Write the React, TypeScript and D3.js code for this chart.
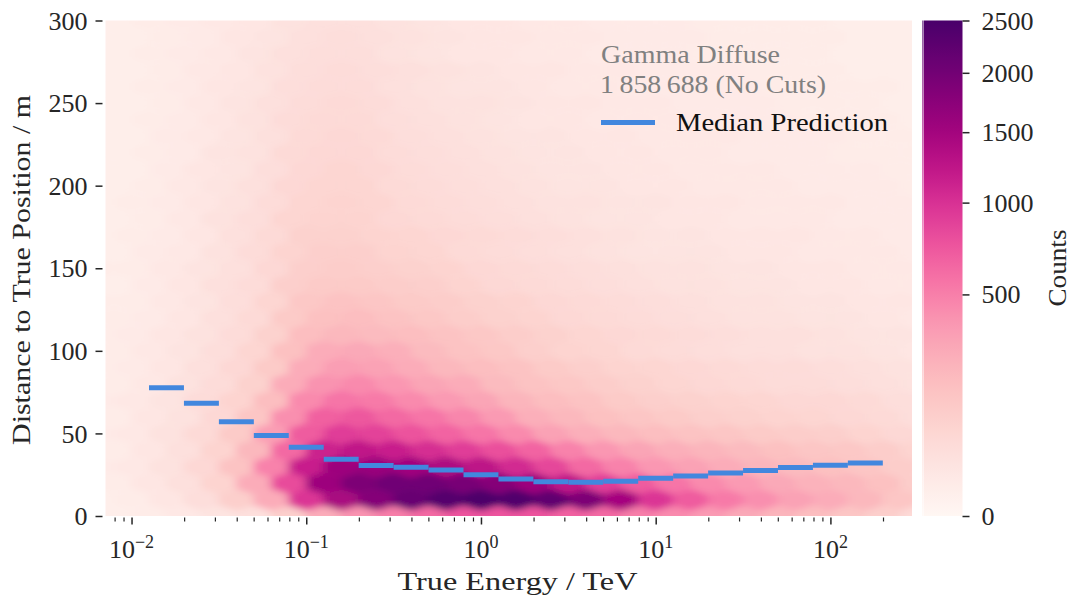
import React, { useEffect, useRef } from 'react';
import * as d3 from 'd3';

// hexbin rows, one per distance (m); even rows use logEnergyEven, odd rows logEnergyOdd
const distanceRows = [0, 10, 20, 30, 40, 50, 60, 70, 80, 90, 100, 110, 120, 130, 140, 150, 160, 170, 180, 190, 200, 210, 220, 230, 240, 250, 260, 270, 280, 290, 300];
const logEnergyEven = [-2.3, -2.1, -1.9, -1.7, -1.5, -1.3, -1.1, -0.9, -0.7, -0.5, -0.3, -0.1, 0.1, 0.3, 0.5, 0.7, 0.9, 1.1, 1.3, 1.5, 1.7, 1.9, 2.1, 2.3, 2.5, 2.7];
const logEnergyOdd = [-2.2, -2.0, -1.8, -1.6, -1.4, -1.2, -1.0, -0.8, -0.6, -0.4, -0.2, 0.0, 0.2, 0.4, 0.6, 0.8, 1.0, 1.2, 1.4, 1.6, 1.8, 2.0, 2.2, 2.4, 2.6];

const hexCounts = [
  [6, 6, 9, 16, 25, 36, 100, 272, 400, 506, 625, 756, 756, 756, 676, 625, 506, 441, 361, 289, 225, 182, 144, 100, 56, 36],
  [6, 9, 20, 42, 100, 272, 961, 1444, 1806, 2116, 2352, 2450, 2401, 2209, 1892, 1482, 961, 702, 529, 420, 324, 272, 210, 144, 100],
  [9, 9, 20, 36, 81, 272, 812, 1560, 1892, 2025, 2025, 1936, 1806, 1560, 1225, 900, 702, 552, 441, 361, 289, 240, 210, 169, 110, 81],
  [12, 16, 30, 64, 156, 484, 1156, 1560, 1600, 1521, 1406, 1260, 1056, 841, 625, 484, 380, 324, 272, 225, 196, 169, 144, 110, 81],
  [9, 9, 20, 36, 81, 210, 625, 1122, 1225, 1156, 1024, 900, 784, 650, 484, 380, 306, 256, 225, 196, 169, 144, 132, 110, 81, 64],
  [12, 16, 30, 56, 121, 342, 702, 900, 870, 756, 650, 552, 441, 324, 256, 210, 182, 156, 144, 121, 110, 100, 81, 64, 49],
  [9, 9, 20, 30, 64, 144, 420, 676, 729, 625, 552, 462, 361, 256, 210, 169, 144, 121, 100, 90, 81, 72, 64, 56, 42, 36],
  [12, 16, 25, 49, 81, 182, 441, 552, 529, 441, 361, 306, 225, 182, 156, 121, 100, 90, 81, 72, 64, 64, 56, 42, 36],
  [9, 9, 16, 30, 49, 90, 272, 400, 441, 380, 306, 272, 196, 156, 132, 110, 90, 72, 64, 56, 49, 49, 42, 36, 30, 25],
  [9, 12, 20, 36, 64, 121, 272, 342, 324, 272, 210, 182, 156, 121, 100, 81, 72, 64, 56, 49, 49, 42, 36, 30, 25],
  [9, 9, 16, 25, 42, 72, 169, 272, 289, 256, 196, 156, 132, 100, 81, 72, 56, 49, 42, 36, 36, 30, 30, 25, 20, 16],
  [9, 12, 20, 30, 49, 90, 182, 210, 196, 182, 156, 132, 110, 90, 72, 64, 56, 49, 42, 36, 36, 30, 25, 25, 20],
  [9, 9, 12, 20, 36, 56, 121, 169, 182, 156, 132, 110, 90, 81, 64, 56, 49, 42, 36, 30, 30, 25, 25, 20, 16, 12],
  [9, 9, 16, 25, 42, 72, 132, 156, 144, 121, 110, 90, 81, 64, 56, 49, 42, 36, 30, 30, 25, 25, 20, 20, 16],
  [6, 6, 12, 20, 36, 49, 100, 121, 121, 110, 100, 81, 64, 56, 49, 42, 36, 30, 30, 25, 25, 20, 20, 16, 16, 12],
  [9, 9, 16, 25, 36, 64, 100, 110, 100, 90, 81, 64, 56, 49, 42, 36, 30, 30, 25, 25, 20, 20, 16, 16, 12],
  [6, 6, 12, 16, 30, 49, 81, 100, 100, 81, 72, 56, 49, 42, 36, 30, 25, 25, 25, 20, 20, 16, 16, 16, 12, 12],
  [6, 9, 12, 20, 36, 56, 90, 90, 81, 72, 64, 56, 49, 42, 36, 30, 25, 25, 20, 20, 20, 16, 16, 12, 12],
  [6, 6, 9, 16, 30, 42, 72, 81, 81, 64, 56, 49, 42, 36, 30, 25, 25, 20, 20, 16, 16, 16, 12, 12, 12, 9],
  [6, 9, 12, 20, 30, 49, 72, 81, 72, 56, 49, 42, 36, 30, 30, 25, 25, 20, 20, 16, 16, 16, 12, 12, 9],
  [6, 6, 9, 16, 25, 36, 64, 72, 72, 56, 49, 42, 36, 30, 25, 25, 20, 20, 16, 16, 16, 12, 12, 12, 9, 9],
  [6, 6, 12, 20, 25, 42, 64, 72, 64, 49, 42, 36, 30, 25, 25, 20, 20, 16, 16, 16, 12, 12, 12, 9, 9],
  [6, 6, 9, 12, 25, 30, 56, 64, 64, 49, 42, 36, 30, 25, 25, 20, 20, 16, 16, 12, 12, 12, 9, 9, 9, 6],
  [6, 6, 12, 16, 25, 36, 56, 64, 56, 42, 36, 30, 25, 25, 20, 20, 16, 16, 16, 12, 12, 12, 9, 9, 6],
  [6, 6, 9, 12, 20, 30, 49, 56, 56, 42, 36, 30, 25, 20, 20, 16, 16, 16, 12, 12, 12, 9, 9, 9, 6, 6],
  [6, 6, 9, 16, 25, 36, 49, 56, 49, 36, 30, 30, 25, 20, 20, 16, 16, 12, 12, 12, 9, 9, 9, 6, 6],
  [6, 6, 9, 12, 20, 25, 42, 49, 49, 36, 30, 25, 25, 20, 16, 16, 12, 12, 12, 12, 9, 9, 9, 9, 6, 6],
  [6, 6, 9, 16, 20, 30, 42, 49, 42, 36, 30, 25, 20, 20, 16, 16, 12, 12, 12, 9, 9, 9, 6, 6, 6],
  [6, 6, 9, 12, 16, 25, 36, 42, 42, 30, 25, 20, 20, 16, 16, 12, 12, 12, 9, 9, 9, 9, 6, 6, 6, 6],
  [6, 6, 9, 12, 20, 25, 36, 42, 36, 30, 25, 20, 20, 16, 16, 12, 12, 12, 9, 9, 9, 9, 6, 6, 6],
  [6, 6, 9, 12, 16, 20, 30, 36, 36, 30, 25, 20, 20, 16, 16, 12, 12, 12, 9, 9, 9, 9, 6, 6, 6, 6],
];

// median prediction per energy bin (log10 TeV edges)
const medianEdges = [-1.9, -1.7, -1.5, -1.3, -1.1, -0.9, -0.7, -0.5, -0.3, -0.1, 0.1, 0.3, 0.5, 0.7, 0.9, 1.1, 1.3, 1.5, 1.7, 1.9, 2.1, 2.3];
const medianDistance = [77.7, 68.2, 57.1, 48.8, 41.6, 34.3, 30.5, 29.5, 27.9, 25.0, 22.4, 20.8, 20.4, 21.0, 22.8, 24.2, 26.0, 27.6, 29.3, 30.7, 32.1];

const yTicks = [0, 50, 100, 150, 200, 250, 300];
const xExponents = [-2, -1, 0, 1, 2];
const colorTicks = [0, 500, 1000, 1500, 2000, 2500];

const W = 1075;
const H = 596;
const plot = { left: 105.5, right: 912, top: 20.5, bottom: 516 };
const cbar = { left: 923.5, right: 962.5 };
const FONT = '"Liberation Serif", "Times New Roman", serif';
const TEXT = '#262626';
const BLUE = '#4287de';

const App = () => {
  const ref = useRef<SVGSVGElement>(null);

  useEffect(() => {
    const svg = d3.select(ref.current);
    svg.selectAll('*').remove();

    const x = d3.scaleLog().domain([10 ** -2.149, 10 ** 2.467]).range([plot.left, plot.right]);
    const y = d3.scaleLinear().domain([0, 300]).range([plot.bottom, plot.top]);
    const color = d3.scaleSequentialSqrt(d3.interpolateRdPu).domain([0, 2500]);

    const defs = svg.append('defs');
    defs.append('clipPath').attr('id', 'plotclip')
      .append('rect')
      .attr('x', plot.left).attr('y', plot.top)
      .attr('width', plot.right - plot.left).attr('height', plot.bottom - plot.top);
    const soft = defs.append('filter').attr('id', 'soft')
      .attr('filterUnits', 'userSpaceOnUse')
      .attr('x', 0).attr('y', 0).attr('width', W).attr('height', H);
    soft.append('feGaussianBlur').attr('stdDeviation', '5 3');

    // hexbin cells
    const hw = x(10 ** 0.2) - x(1);
    const hh = (y(0) - y(10)) * 4 / 3;
    const hexPath = (cx: number, cy: number) =>
      `M${cx},${cy - hh / 2}L${cx + hw / 2},${cy - hh / 4}L${cx + hw / 2},${cy + hh / 4}` +
      `L${cx},${cy + hh / 2}L${cx - hw / 2},${cy + hh / 4}L${cx - hw / 2},${cy - hh / 4}Z`;

    const cells = hexCounts.flatMap((row, i) =>
      row.map((c, j) => ({
        d: distanceRows[i],
        e: (i % 2 ? logEnergyOdd : logEnergyEven)[j],
        c,
      }))
    );

    svg.append('g')
      .attr('clip-path', 'url(#plotclip)')
      .append('g')
      .attr('filter', 'url(#soft)')
      .selectAll('path')
      .data(cells)
      .enter()
      .append('path')
      .attr('d', d => hexPath(x(10 ** d.e), y(d.d)))
      .attr('fill', d => color(d.c))
      .attr('stroke', d => color(d.c))
      .attr('stroke-width', 0.8);

    // median prediction
    svg.append('g')
      .selectAll('line')
      .data(medianDistance)
      .enter()
      .append('line')
      .attr('x1', (d, i) => x(10 ** medianEdges[i]))
      .attr('x2', (d, i) => x(10 ** medianEdges[i + 1]))
      .attr('y1', d => y(d))
      .attr('y2', d => y(d))
      .attr('stroke', BLUE)
      .attr('stroke-width', 5);

    // y axis
    const gy = svg.append('g').attr('transform', `translate(${plot.left - 3},0)`)
      .call(d3.axisLeft(y).tickValues(yTicks).tickSize(7).tickPadding(8).tickFormat(d3.format('d')));
    gy.select('.domain').remove();
    gy.selectAll('line').attr('stroke', TEXT).attr('stroke-width', 1.5);
    gy.selectAll('text').attr('font-family', FONT).attr('font-size', 26).attr('fill', TEXT).attr('dy', '0.33em');

    // x axis
    const [lo, hi] = x.domain();
    const minor: number[] = [];
    for (let n = -3; n <= 2; n++) {
      for (let k = 2; k <= 9; k++) {
        const v = k * 10 ** n;
        if (v >= lo && v <= hi) minor.push(v);
      }
    }
    const gxMinor = svg.append('g').attr('transform', `translate(0,${plot.bottom + 1.5})`)
      .call(d3.axisBottom(x).tickValues(minor).tickSize(4).tickFormat(() => ''));
    gxMinor.select('.domain').remove();
    gxMinor.selectAll('line').attr('stroke', TEXT).attr('stroke-width', 1.2);

    const gxMajor = svg.append('g').attr('transform', `translate(0,${plot.bottom + 1.5})`)
      .call(d3.axisBottom(x).tickValues(xExponents.map(e => 10 ** e)).tickSize(7).tickFormat(() => ''));
    gxMajor.select('.domain').remove();
    gxMajor.selectAll('line').attr('stroke', TEXT).attr('stroke-width', 1.5);

    xExponents.forEach(e => {
      const t = svg.append('text')
        .attr('x', x(10 ** e))
        .attr('y', 558)
        .attr('text-anchor', 'middle')
        .attr('font-family', FONT)
        .attr('font-size', 26)
        .attr('fill', TEXT);
      t.append('tspan').text('10');
      t.append('tspan').attr('dy', -10).attr('font-size', 18).text(e < 0 ? `\u2212${-e}` : `${e}`);
    });

    const label = (txt: string, len: number) =>
      svg.append('text')
        .attr('font-family', FONT).attr('font-size', 26).attr('fill', TEXT)
        .attr('textLength', len).attr('lengthAdjust', 'spacingAndGlyphs')
        .text(txt);

    label('True Energy / TeV', 240)
      .attr('x', 517.5).attr('y', 590)
      .attr('text-anchor', 'middle');

    label('Distance to True Position / m', 350)
      .attr('transform', `translate(30,270) rotate(-90)`)
      .attr('text-anchor', 'middle');

    // colorbar
    const grad = defs.append('linearGradient').attr('id', 'cbgrad')
      .attr('x1', 0).attr('y1', 1).attr('x2', 0).attr('y2', 0);
    d3.range(0, 41).forEach(i => {
      grad.append('stop').attr('offset', i / 40).attr('stop-color', d3.interpolateRdPu(i / 40));
    });
    svg.append('rect')
      .attr('x', cbar.left - 1.5).attr('y', plot.top)
      .attr('width', 1).attr('height', plot.bottom - plot.top)
      .attr('fill', 'url(#cbgrad)').attr('opacity', 0.6);
    svg.append('rect')
      .attr('x', cbar.left).attr('y', plot.top)
      .attr('width', cbar.right - cbar.left).attr('height', plot.bottom - plot.top)
      .attr('fill', 'url(#cbgrad)');

    const cy = d3.scaleSqrt().domain([0, 2500]).range([plot.bottom, plot.top]);
    const gc = svg.append('g').attr('transform', `translate(${cbar.right},0)`)
      .call(d3.axisRight(cy).tickValues(colorTicks).tickSize(7).tickPadding(12).tickFormat(d3.format('d')));
    gc.select('.domain').remove();
    gc.selectAll('line').attr('stroke', TEXT).attr('stroke-width', 1.5);
    gc.selectAll('text').attr('font-family', FONT).attr('font-size', 26).attr('fill', TEXT).attr('dy', '0.33em');

    label('Counts', 77)
      .attr('transform', `translate(1066,268) rotate(-90)`)
      .attr('text-anchor', 'middle');

    // legend
    label('Gamma Diffuse', 179)
      .attr('x', 601).attr('y', 62.5).attr('fill', '#808080');
    label('1\u2009858\u2009688 (No Cuts)', 226)
      .attr('x', 600).attr('y', 92.5).attr('fill', '#808080');
    svg.append('line')
      .attr('x1', 601).attr('x2', 655).attr('y1', 122.5).attr('y2', 122.5)
      .attr('stroke', BLUE).attr('stroke-width', 5);
    label('Median Prediction', 212)
      .attr('x', 676).attr('y', 131).attr('fill', '#111');
  }, []);

  return (
    <svg
      ref={ref}
      width={W}
      height={H}
      style={{ position: 'absolute', left: 0, top: 0, background: '#fff' }}
    />
  );
};

export default App;
